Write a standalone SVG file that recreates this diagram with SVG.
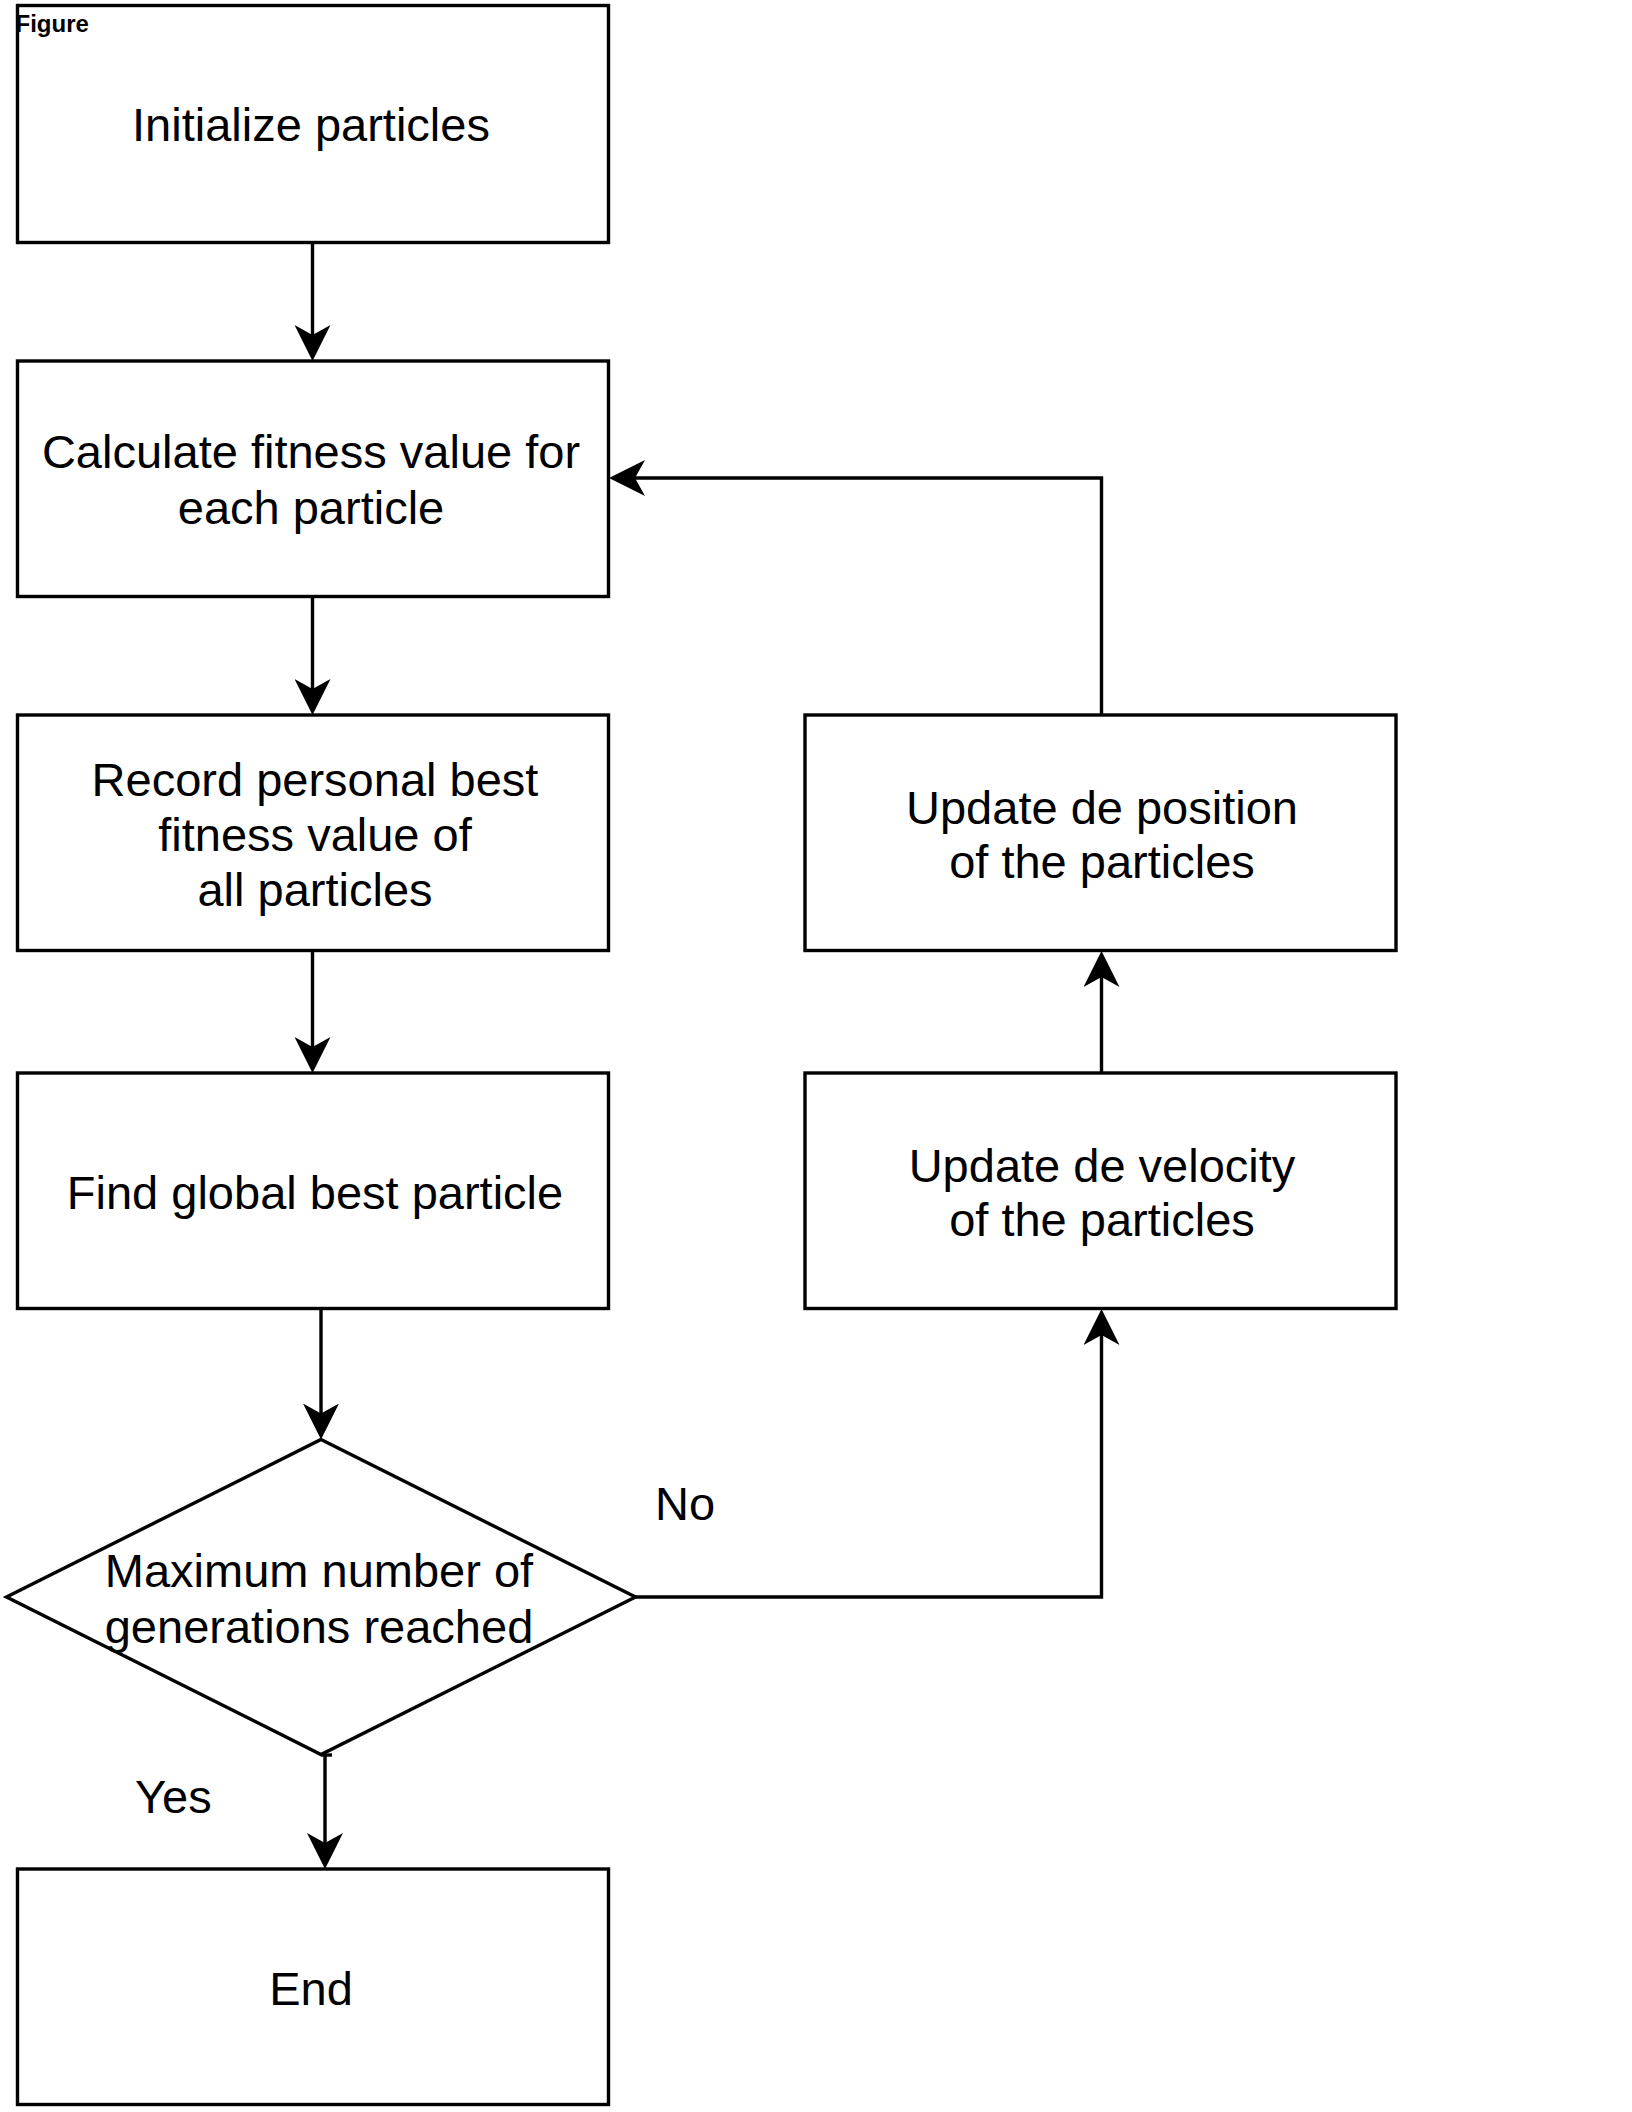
<svg xmlns="http://www.w3.org/2000/svg" width="1632" height="2112" viewBox="0 0 1632 2112">
<style>
.box{fill:#fff;stroke:#000;stroke-width:3.4}
.t{font-family:"Liberation Sans",Arial,Helvetica,sans-serif;font-size:47px;fill:#000;text-anchor:middle}
.lbl{font-family:"Liberation Sans",Arial,Helvetica,sans-serif;font-size:47px;fill:#000}
.conn{fill:none;stroke:#000;stroke-width:3.4}
</style>
<defs>
<marker id="arr" markerUnits="userSpaceOnUse" markerWidth="36" markerHeight="36" viewBox="0 0 36 36" refX="16" refY="18" orient="auto">
<path d="M36,18 L0,0 L10,18 L0,36 Z" fill="#000"/>
</marker>
</defs>
<rect width="1632" height="2112" fill="#fff"/>
<g id="n1"><rect class="box" x="17.5" y="5.5" width="591" height="237"/><text class="t" x="311" y="141">Initialize particles</text></g>
<g id="n2"><rect class="box" x="17.5" y="361" width="591" height="235.5"/><text class="t" x="311" y="468">Calculate fitness value for</text><text class="t" x="311" y="524">each particle</text></g>
<g id="n3"><rect class="box" x="17.5" y="715" width="591" height="235.5"/><text class="t" x="315" y="796">Record personal best</text><text class="t" x="315" y="851">fitness value of</text><text class="t" x="315" y="906">all particles</text></g>
<g id="n4"><rect class="box" x="17.5" y="1073" width="591" height="235.5"/><text class="t" x="315" y="1209">Find global best particle</text></g>
<g id="n5"><polygon class="box" points="321,1439.5 635.5,1597 321,1754.5 6.5,1597"/><text class="t" x="319" y="1587">Maximum number of</text><text class="t" x="319" y="1643">generations reached</text></g>
<g id="n6"><rect class="box" x="17.5" y="1869" width="591" height="235.5"/><text class="t" x="311" y="2005">End</text></g>
<g id="n7"><rect class="box" x="805" y="715" width="591" height="235.5"/><text class="t" x="1102" y="824">Update de position</text><text class="t" x="1102" y="878">of the particles</text></g>
<g id="n8"><rect class="box" x="805" y="1073" width="591" height="235.5"/><text class="t" x="1102" y="1182">Update de velocity</text><text class="t" x="1102" y="1236">of the particles</text></g>
<g id="connectors">
<line class="conn" x1="312.5" y1="242.5" x2="312.5" y2="341" marker-end="url(#arr)"/>
<line class="conn" x1="312.5" y1="596.5" x2="312.5" y2="695" marker-end="url(#arr)"/>
<line class="conn" x1="312.5" y1="950.5" x2="312.5" y2="1053" marker-end="url(#arr)"/>
<line class="conn" x1="321" y1="1308.5" x2="321" y2="1419.5" marker-end="url(#arr)"/>
<line class="conn" x1="321" y1="1755" x2="332" y2="1755"/>
<line class="conn" x1="325" y1="1755" x2="325" y2="1849" marker-end="url(#arr)"/>
<path class="conn" d="M635.5,1597 H1101.5 V1329" marker-end="url(#arr)"/>
<line class="conn" x1="1101.5" y1="1073" x2="1101.5" y2="971" marker-end="url(#arr)"/>
<path class="conn" d="M1101.5,715 V478 H629" marker-end="url(#arr)"/>
<text class="lbl" x="655" y="1520">No</text>
<text class="lbl" x="135" y="1813">Yes</text>
</g>
<text x="15.5" y="32" font-family="'Liberation Sans',Arial,sans-serif" font-size="24" font-weight="bold" fill="#000">Figure</text>
</svg>
